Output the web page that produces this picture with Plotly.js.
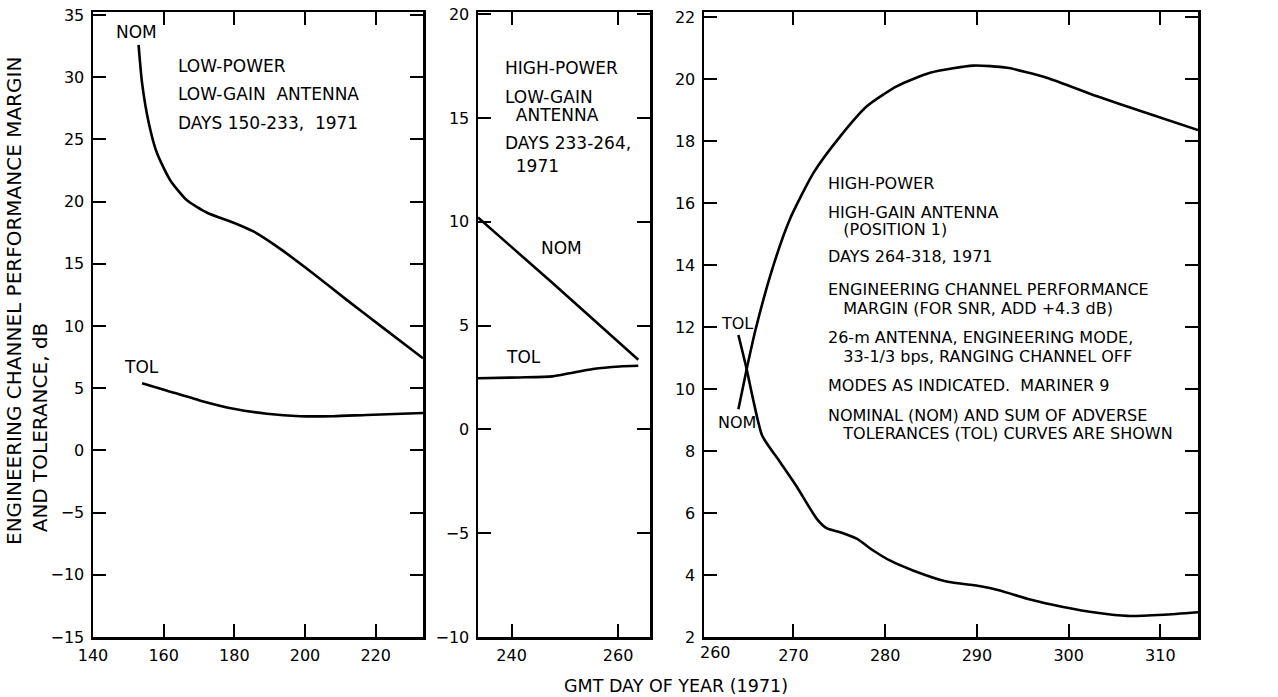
<!DOCTYPE html>
<html>
<head>
<meta charset="utf-8">
<script src="https://cdn.plot.ly/plotly-3.0.1.min.js"></script>
<style>html,body{margin:0;padding:0;background:#fff;}#chart{width:1278px;height:697px;}</style>
</head>
<body>
<div id="chart"></div>
<script>
// Panel 1: low-power, low-gain antenna (days 150-233)
const p1NomDay = [152.9, 153.9, 155.8, 158.1, 161.9, 166.6, 172.3, 179.8, 185.4, 193.0, 202.4, 211.8, 221.2, 233.4];
const p1NomDb  = [32.6, 29.5, 26.3, 23.9, 21.7, 20.1, 19.1, 18.3, 17.6, 16.2, 14.2, 12.1, 10.05, 7.4];
const p1TolDay = [153.9, 161.0, 170.4, 179.8, 189.2, 198.6, 208.0, 217.4, 233.4];
const p1TolDb  = [5.4, 4.8, 4.0, 3.35, 2.95, 2.75, 2.75, 2.85, 3.0];

// Panel 2: high-power, low-gain antenna (days 233-264)
const p2NomDay = [233.7, 247.7, 263.8];
const p2NomDb  = [10.2, 7.05, 3.35];
const p2TolDay = [233.7, 241.4, 247.7, 250.9, 255.3, 260.3, 263.8];
const p2TolDb  = [2.46, 2.5, 2.55, 2.7, 2.91, 3.03, 3.06];

// Panel 3: high-power, high-gain antenna (days 264-318)
const p3NomDay = [264.0, 264.9, 265.9, 267.8, 269.6, 272.2, 275.1, 278.0, 281.3, 284.9, 289.6, 293.3, 297.6, 303.1, 308.5, 314.1];
const p3NomDb  = [9.35, 10.64, 11.95, 13.97, 15.47, 16.98, 18.15, 19.12, 19.77, 20.2, 20.43, 20.36, 20.04, 19.44, 18.9, 18.35];
const p3TolDay = [264.0, 264.9, 265.6, 266.6, 268.55, 270.4, 272.55, 273.6, 275.1, 276.9, 278.7, 280.5, 283.1, 286.7, 290.4, 292.5, 295.8, 299.4, 303.1, 306.4, 310.35, 314.1];
const p3TolDb  = [11.74, 10.64, 9.67, 8.49, 7.64, 6.83, 5.81, 5.51, 5.38, 5.17, 4.79, 4.47, 4.14, 3.79, 3.64, 3.5, 3.21, 2.97, 2.78, 2.68, 2.72, 2.8];

// Tick values
const x1Ticks = [140, 160, 180, 200, 220];
const x2Ticks = [240, 260];
const x3Ticks = [270, 280, 290, 300, 310];
const x3FirstLabel = "260";
const y1Ticks = [-15, -10, -5, 0, 5, 10, 15, 20, 25, 30, 35];
const y2Ticks = [-10, -5, 0, 5, 10, 15, 20];
const y3Ticks = [2, 4, 6, 8, 10, 12, 14, 16, 18, 20, 22];

// Text labels
const p1Text = ["LOW-POWER", "LOW-GAIN  ANTENNA", "DAYS 150-233,  1971"];
const p2Text = ["HIGH-POWER", "LOW-GAIN", "  ANTENNA", "DAYS 233-264,", "  1971"];
const p3Text = ["HIGH-POWER", "HIGH-GAIN ANTENNA", "   (POSITION 1)", "DAYS 264-318, 1971",
  "ENGINEERING CHANNEL PERFORMANCE", "   MARGIN (FOR SNR, ADD +4.3 dB)",
  "26-m ANTENNA, ENGINEERING MODE,", "   33-1/3 bps, RANGING CHANNEL OFF",
  "MODES AS INDICATED.  MARINER 9",
  "NOMINAL (NOM) AND SUM OF ADVERSE", "   TOLERANCES (TOL) CURVES ARE SHOWN"];
const yTitle = "ENGINEERING CHANNEL PERFORMANCE MARGIN<br>  AND TOLERANCE, dB";
const xTitle = "GMT DAY OF YEAR (1971)";

const W = 1278, H = 697;
const FONT = "DejaVu Sans, sans-serif";
const px = v => v / W;
const py = v => 1 - v / H;

function tr(x, y, xa, ya, shape) {
  return {x: x, y: y, xaxis: xa, yaxis: ya, mode: "lines",
    line: {color: "#000", width: 2.6, shape: shape || "spline", smoothing: 0.6},
    hoverinfo: "skip", showlegend: false};
}
const data = [
  tr(p1NomDay, p1NomDb, "x", "y"),
  tr(p1TolDay, p1TolDb, "x", "y"),
  tr(p2NomDay, p2NomDb, "x2", "y2", "linear"),
  tr(p2TolDay, p2TolDb, "x2", "y2"),
  tr(p3NomDay, p3NomDb, "x3", "y3"),
  tr(p3TolDay, p3TolDb, "x3", "y3")
];

const yDom = [py(637), py(12)];
function xax(dom, range, ticks) {
  return {domain: [px(dom[0]), px(dom[1])], range: range, tickvals: ticks, ticks: "inside", ticklen: 13, tickwidth: 2,
    tickcolor: "#000", showline: true, linecolor: "#000", linewidth: 2.5, mirror: "ticks", showgrid: false, zeroline: false,
    tickfont: {family: FONT, size: 16, color: "#000"}, ticklabelstandoff: 2, fixedrange: true};
}
function yax(anchor, range, ticks) {
  return {domain: yDom, anchor: anchor, range: range, tickvals: ticks, ticks: "inside", ticklen: 13, tickwidth: 2,
    tickcolor: "#000", showline: true, linecolor: "#000", linewidth: 2.5, mirror: "ticks", showgrid: false, zeroline: false,
    tickfont: {family: FONT, size: 16, color: "#000"}, ticklabelstandoff: 3, fixedrange: true};
}

const annotations = [];
function txt(t, x, y, size, opts) {
  annotations.push(Object.assign({text: t, xref: "paper", yref: "paper", x: px(x), y: py(y), xanchor: "left", yanchor: "middle",
    showarrow: false, font: {family: FONT, size: size, color: "#000"}, align: "left"}, opts || {}));
}
// panel 1
txt("NOM", 136, 32, 17, {xanchor: "center"});
txt("TOL", 141, 367, 17, {xanchor: "center"});
const p1Y = [66, 94, 123];
p1Text.forEach((t, i) => txt(t, 176, p1Y[i], 17));
// panel 2
txt("NOM", 561, 248, 17, {xanchor: "center"});
txt("TOL", 523, 357, 17, {xanchor: "center"});
const p2Y = [68, 97, 115, 143, 166];
p2Text.forEach((t, i) => txt(t, 503, p2Y[i], 17));
// panel 3
txt("TOL", 737, 323, 16, {xanchor: "center"});
txt("NOM", 737, 422, 16, {xanchor: "center"});
const p3Y = [183, 212, 230, 257, 290, 308, 338, 356, 385, 415, 433];
p3Text.forEach((t, i) => txt(t, 826, p3Y[i], 16));
txt(x3FirstLabel, 715, 652, 16, {xanchor: "center"});
// axis titles
txt(yTitle, 27, 301, 20, {xanchor: "center", textangle: -90});
txt(xTitle, 676, 686, 17.5, {xanchor: "center"});

const layout = {
  width: W, height: H, margin: {l: 0, r: 0, t: 0, b: 0}, paper_bgcolor: "#fff", plot_bgcolor: "#fff",
  showlegend: false,
  xaxis: Object.assign(xax([93, 423], [140, 233.4], x1Ticks), {anchor: "y"}),
  xaxis2: Object.assign(xax([478, 650], [233.7, 266], x2Ticks), {anchor: "y2"}),
  xaxis3: Object.assign(xax([704, 1198], [260.25, 314.1], x3Ticks), {anchor: "y3"}),
  yaxis: yax("x", [-15, 35.24], y1Ticks),
  yaxis2: yax("x2", [-10, 20.1], y2Ticks),
  yaxis3: yax("x3", [2, 22.16], y3Ticks),
  annotations: annotations
};

Plotly.newPlot("chart", data, layout, {displayModeBar: false, staticPlot: true});
</script>
</body>
</html>
